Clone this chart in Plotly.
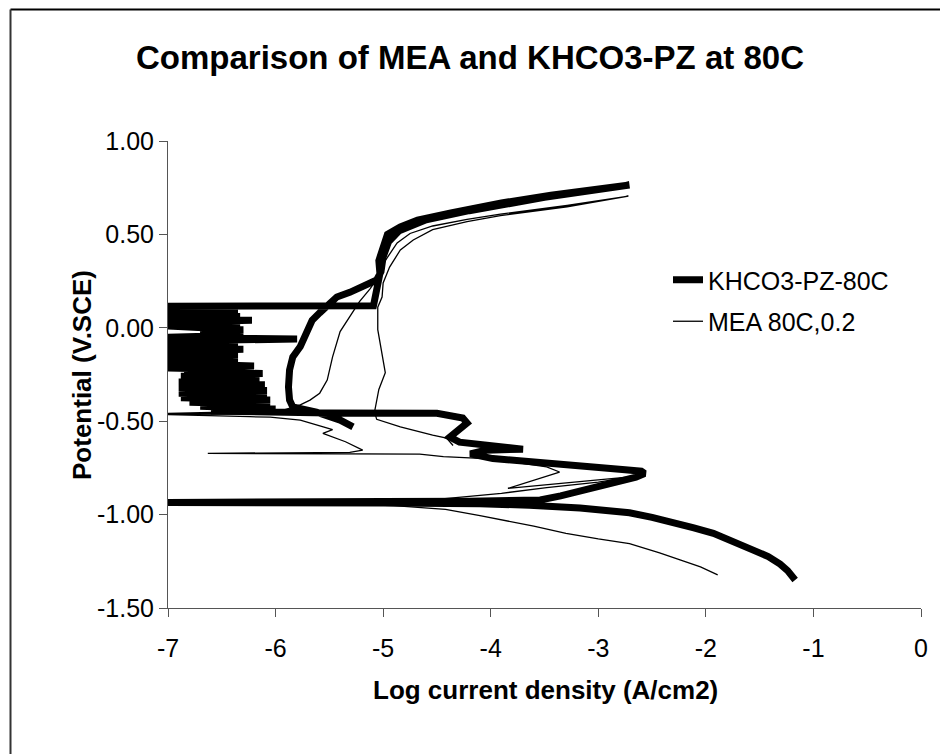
import plotly.graph_objects as go

# ---------------- data ----------------
# KHCO3-PZ-80C : log current density (A/cm2) and potential (V vs SCE), in scan order
khco3_logi = [
    -1.17, -1.24, -1.31, -1.42, -1.56, -1.75, -1.93, -2.12, -2.31, -2.50, -2.71, -2.95, -3.17, -3.64, -4.10,
    -5.00, -6.00, -7.00,
    -6.20, -5.00, -4.20, -3.54, -3.35, -3.14, -2.95, -2.80, -2.65, -2.57, -2.60, -2.75, -3.17, -3.64, -3.98,
    -4.19, -4.05, -3.70, -3.98, -4.29, -4.38, -4.22, -4.26, -4.50, -5.50, -6.05,
    -6.60, -6.00, -6.70, -6.05, -6.80, -6.05, -6.88, -6.08, -6.90, -6.08, -6.90, -6.10, -6.90, -6.15, -6.88,
    -6.12, -6.85, -6.30, -7.00, -6.20, -7.00, -6.35, -7.00, -6.35, -7.00, -6.30, -7.00, -6.35, -7.00, -5.80,
    -7.00, -6.30, -6.70, -6.30, -6.60, -7.00, -6.33, -7.00, -6.22, -7.00, -6.33, -7.00, -6.35, -7.00, -6.40,
    -7.00,
    -5.09, -5.05, -5.03, -5.04, -5.00, -4.96, -4.84, -4.68, -4.37, -3.90, -3.44, -2.98, -2.71,
    -3.00, -3.50, -4.20, -4.60, -4.85, -4.95, -5.00, -5.02, -5.06, -5.15, -5.31, -5.43, -5.50, -5.59, -5.66,
    -5.72, -5.77, -5.84, -5.87, -5.88, -5.87, -5.84, -5.62, -5.40, -5.28,
]
khco3_E = [
    -1.350, -1.300, -1.265, -1.225, -1.190, -1.145, -1.100, -1.070, -1.040, -1.015, -0.990, -0.975, -0.965, -0.950, -0.942,
    -0.938, -0.936, -0.935,
    -0.932, -0.930, -0.928, -0.922, -0.900, -0.868, -0.845, -0.825, -0.800, -0.780, -0.768, -0.760, -0.740, -0.716, -0.700,
    -0.675, -0.655, -0.650, -0.635, -0.612, -0.585, -0.510, -0.483, -0.458, -0.456, -0.455,
    -0.445, -0.435, -0.420, -0.410, -0.398, -0.386, -0.374, -0.362, -0.350, -0.335, -0.320, -0.305, -0.290, -0.275, -0.260,
    -0.245, -0.235, -0.225, -0.215, -0.205, -0.190, -0.175, -0.160, -0.145, -0.130, -0.115, -0.100, -0.085, -0.070, -0.060,
    -0.050, -0.040, -0.025, -0.010, 0.000, 0.010, 0.020, 0.030, 0.040, 0.050, 0.060, 0.070, 0.080, 0.090, 0.100,
    0.115,
    0.118, 0.245, 0.290, 0.360, 0.430, 0.500, 0.540, 0.577, 0.615, 0.668, 0.710, 0.748, 0.764,
    0.738, 0.698, 0.627, 0.578, 0.520, 0.460, 0.380, 0.300, 0.256, 0.229, 0.190, 0.165, 0.122, 0.080, 0.040,
    -0.030, -0.100, -0.156, -0.226, -0.317, -0.387, -0.424, -0.452, -0.494, -0.530,
]

# MEA 80C,0.2 : log current density (A/cm2) and potential (V vs SCE), in scan order
mea_logi = [
    -1.89, -2.05, -2.24, -2.43, -2.71, -3.00, -3.30, -3.60, -4.10, -4.42, -4.90, -5.50, -7.00,
    -5.50, -4.50, -3.90, -3.48, -3.00, -2.68, -3.84, -3.36, -3.48, -3.77, -4.05, -4.44, -4.66, -6.63, -6.20,
    -5.31, -5.19, -5.35, -5.56, -5.47, -5.77, -6.05, -6.24, -7.00, -6.20, -7.00, -5.95, -5.77, -5.68, -5.59,
    -5.52, -5.47, -5.40, -5.31, -5.22, -5.12, -5.06, -4.98, -4.87, -4.75, -4.54, -4.22, -3.91, -3.29, -2.72,
    -3.29, -3.91, -4.22, -4.54, -4.72, -4.84, -4.94, -5.00, -5.01, -5.05, -5.05, -5.02, -4.98, -5.04, -5.06,
    -5.08, -5.06, -4.84, -4.54, -4.41, -4.35,
]
mea_E = [
    -1.323, -1.280, -1.243, -1.205, -1.155, -1.130, -1.100, -1.062, -1.005, -0.972, -0.952, -0.943, -0.937,
    -0.930, -0.918, -0.886, -0.856, -0.826, -0.797, -0.860, -0.772, -0.745, -0.720, -0.700, -0.690, -0.676, -0.672, -0.670,
    -0.667, -0.655, -0.610, -0.565, -0.545, -0.494, -0.478, -0.476, -0.465, -0.460, -0.458, -0.445, -0.413, -0.387, -0.350,
    -0.280, -0.156, -0.020, 0.058, 0.140, 0.210, 0.260, 0.360, 0.454, 0.505, 0.545, 0.580, 0.608, 0.655, 0.705,
    0.648, 0.600, 0.568, 0.525, 0.470, 0.417, 0.325, 0.240, 0.165, 0.110, -0.010, -0.100, -0.240, -0.330, -0.400,
    -0.450, -0.490, -0.530, -0.574, -0.590, -0.630,
]

series_names = ["KHCO3-PZ-80C", "MEA 80C,0.2"]

x_ticks = [-7, -6, -5, -4, -3, -2, -1, 0]
x_tick_labels = ["-7", "-6", "-5", "-4", "-3", "-2", "-1", "0"]
y_ticks = [-1.5, -1.0, -0.5, 0.0, 0.5, 1.0]
y_tick_labels = ["-1.50", "-1.00", "-0.50", "0.00", "0.50", "1.00"]

title_text = "Comparison of MEA and KHCO3-PZ at 80C"
x_title = "Log current density (A/cm2)"
y_title = "Potential (V.SCE)"

# ---------------- figure ----------------
FONT = "Arial, 'Liberation Sans', sans-serif"
W, H = 940, 754
L, R, T, B = 168, 19, 141, 146
pw, ph = W - L - R, H - T - B


def px_to_paper_x(px):
    return (px - L) / pw


def py_to_paper_y(py):
    return (H - B - py) / ph


fig = go.Figure()
fig.add_trace(go.Scatter(
    x=khco3_logi, y=khco3_E, mode="lines", name=series_names[0],
    line=dict(color="black", width=7), legendgroup="a",
))
fig.add_trace(go.Scatter(
    x=mea_logi, y=mea_E, mode="lines", name=series_names[1],
    line=dict(color="black", width=1.3), legendgroup="b",
))

axis_color = "#555555"
fig.update_layout(
    width=W, height=H,
    margin=dict(l=L, r=R, t=T, b=B, pad=0),
    paper_bgcolor="white", plot_bgcolor="white",
    font=dict(family=FONT, color="black"),
    title=dict(text="<b>" + title_text + "</b>", x=0.5, xanchor="center",
               y=1 - 57 / H, yanchor="middle", font=dict(size=33, family=FONT, color="black")),
    showlegend=True,
    legend=dict(x=px_to_paper_x(668), y=py_to_paper_y(257), xanchor="left", yanchor="top",
                font=dict(size=25, family=FONT, color="black"), bgcolor="rgba(0,0,0,0)",
                traceorder="grouped", tracegroupgap=6),
    xaxis=dict(range=[-7, 0], tickvals=x_ticks, ticktext=x_tick_labels, ticks="outside", ticklen=8,
               tickcolor=axis_color, showline=True, linecolor=axis_color, linewidth=1, showgrid=False,
               zeroline=False, tickfont=dict(size=25, family=FONT, color="black"), fixedrange=True,
               ticklabelstandoff=10),
    yaxis=dict(range=[-1.5, 1.0], tickvals=y_ticks, ticktext=y_tick_labels, ticks="outside", ticklen=8,
               tickcolor=axis_color, showline=True, linecolor=axis_color, linewidth=1, showgrid=False,
               zeroline=False, tickfont=dict(size=25, family=FONT, color="black"), fixedrange=True),
    annotations=[
        dict(text="<b>" + x_title + "</b>", xref="paper", yref="paper",
             x=px_to_paper_x(545), y=py_to_paper_y(690), xanchor="center", yanchor="middle",
             showarrow=False, font=dict(size=26, family=FONT, color="black")),
        dict(text="<b>" + y_title + "</b>", xref="paper", yref="paper", textangle=-90,
             x=px_to_paper_x(82), y=py_to_paper_y(375), xanchor="center", yanchor="middle",
             showarrow=False, font=dict(size=26, family=FONT, color="black")),
    ],
    shapes=[
        dict(type="line", xref="paper", yref="paper", x0=px_to_paper_x(10.5), x1=px_to_paper_x(960),
             y0=py_to_paper_y(9.5), y1=py_to_paper_y(9.5), line=dict(color="black", width=2)),
        dict(type="line", xref="paper", yref="paper", x0=px_to_paper_x(10.5), x1=px_to_paper_x(10.5),
             y0=py_to_paper_y(9.5), y1=py_to_paper_y(780), line=dict(color="#333333", width=2)),
    ],
)

fig.write_html("out.html")
